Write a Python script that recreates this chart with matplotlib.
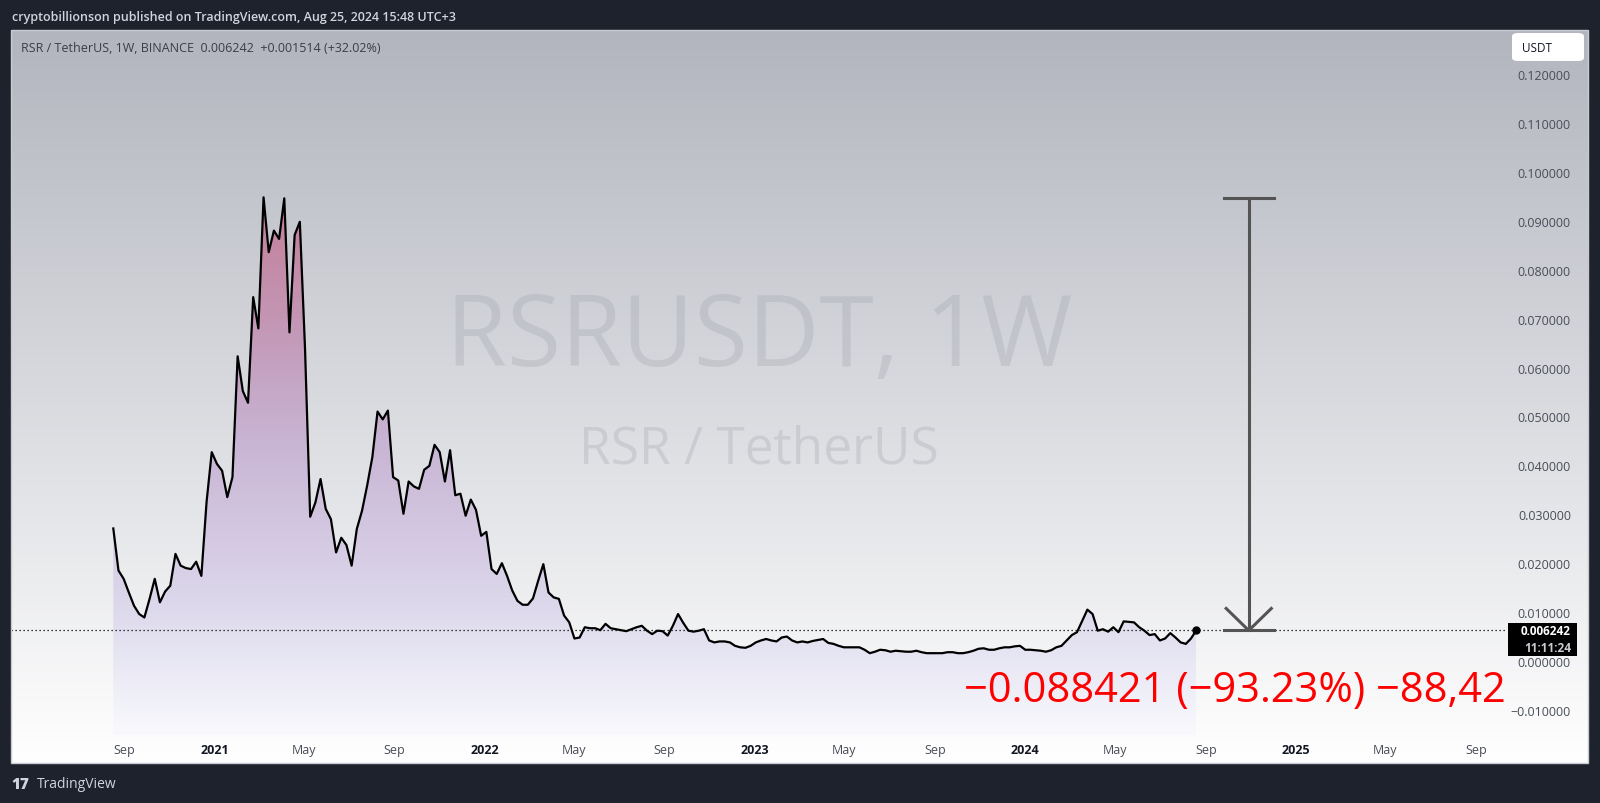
import numpy as np
import pandas as pd
import matplotlib
matplotlib.use('Agg')
import matplotlib.pyplot as plt
import matplotlib.dates as mdates
import matplotlib.transforms as mtransforms
from matplotlib.patches import Rectangle, FancyBboxPatch

plt.rcParams['font.family'] = ['Open Sans', 'DejaVu Sans']

# weekly closes RSR/USDT (Binance), first candle = week of 2020-08-17
start_week = '2020-08-17'
closes = [
    0.0271, 0.0185, 0.0168, 0.0140, 0.0113, 0.0096, 0.0089, 0.0127, 0.0168, 0.0120,
    0.0142, 0.0154, 0.0219, 0.0195, 0.0190, 0.0188, 0.0203, 0.0174, 0.0325, 0.0427,
    0.0403, 0.0389, 0.0335, 0.0376, 0.0623, 0.0552, 0.0528, 0.0744, 0.0680, 0.0948,
    0.0836, 0.0880, 0.0863, 0.0946, 0.0672, 0.0871, 0.0898, 0.0640, 0.0295, 0.0324,
    0.0372, 0.0311, 0.0290, 0.0222, 0.0252, 0.0237, 0.0195, 0.0270, 0.0307, 0.0359,
    0.0417, 0.0510, 0.0494, 0.0512, 0.0376, 0.0369, 0.0301, 0.0367, 0.0357, 0.0352,
    0.0391, 0.0399, 0.0442, 0.0427, 0.0367, 0.0431, 0.0339, 0.0342, 0.0297, 0.0330,
    0.0309, 0.0256, 0.0264, 0.0188, 0.0178, 0.0200, 0.0174, 0.0144, 0.0123, 0.0115,
    0.0115, 0.0128, 0.0164, 0.0198, 0.0140, 0.0130, 0.0127, 0.0093, 0.0079, 0.0046,
    0.0048, 0.0069, 0.0067, 0.0067, 0.0063, 0.0076, 0.0067, 0.0065, 0.0063, 0.0061,
    0.0065, 0.0069, 0.0072, 0.0062, 0.0055, 0.0062, 0.0061, 0.0052, 0.0072, 0.0096,
    0.0078, 0.0062, 0.0060, 0.0062, 0.0065, 0.0042, 0.0038, 0.0040, 0.0040, 0.0038,
    0.0031, 0.0028, 0.0027, 0.0031, 0.0038, 0.0042, 0.0045, 0.0042, 0.0040, 0.0048,
    0.0050, 0.0042, 0.0038, 0.0040, 0.0038, 0.0041, 0.0043, 0.0045, 0.0037, 0.0035,
    0.0031, 0.0028, 0.0028, 0.0028, 0.0028, 0.0023, 0.0016, 0.0019, 0.0023, 0.0022,
    0.0019, 0.0021, 0.0020, 0.0019, 0.0019, 0.0021, 0.0018, 0.0016, 0.0016, 0.0016,
    0.0016, 0.0018, 0.0018, 0.0016, 0.0016, 0.0018, 0.0021, 0.0025, 0.0026, 0.0023,
    0.0023, 0.0026, 0.0028, 0.0028, 0.0030, 0.0031, 0.0023, 0.0023, 0.0022, 0.0021,
    0.0019, 0.0022, 0.0028, 0.0031, 0.0042, 0.0053, 0.0059, 0.0082, 0.0105, 0.0096,
    0.0062, 0.0065, 0.0060, 0.0069, 0.0059, 0.0081, 0.0080, 0.0079, 0.0069, 0.0062,
    0.0053, 0.0055, 0.0042, 0.0046, 0.0057, 0.0048, 0.0038, 0.0035, 0.0046, 0.006242,
]
last_price = 0.006242
change_abs = 0.001514
change_pct = 32.02
countdown = '11:11:24'

# price range tool
measure_top = 0.094663
measure_date = '2024-10-29'
measure_text = '\u22120.088421 (\u221293.23%) \u221288,42'

price_ticks = [-0.01, 0.0, 0.01, 0.02, 0.03, 0.04, 0.05, 0.06, 0.07, 0.08, 0.09, 0.10, 0.11, 0.12]
time_ticks = ['2020-09-01', '2021-01-01', '2021-05-01', '2021-09-01', '2022-01-01', '2022-05-01',
              '2022-09-01', '2023-01-01', '2023-05-01', '2023-09-01', '2024-01-01', '2024-05-01',
              '2024-09-01', '2025-01-01', '2025-05-01', '2025-09-01']
time_labels = ['Sep', '2021', 'May', 'Sep', '2022', 'May', 'Sep', '2023', 'May', 'Sep',
               '2024', 'May', 'Sep', '2025', 'May', 'Sep']

W, H = 1600, 804


def fx(px):
    return px / W


def fy(py):
    return 1 - py / H


fig = plt.figure(figsize=(16, 8.04), dpi=100, facecolor='#1e222d')

# panel background gradient
panel_top, panel_bot, panel_l, panel_r = 30.5, 764, 11, 1588
bg = fig.add_axes([fx(panel_l), fy(panel_bot), (panel_r - panel_l) / W, (panel_bot - panel_top) / H])
t = np.linspace(0, 1, 300)[:, None]
top_c = np.array([178, 181, 190]) / 255
bot_c = np.array([255, 255, 255]) / 255
grad = top_c[None, None, :] * (1 - t[..., None]) + bot_c[None, None, :] * t[..., None]
bg.imshow(grad, aspect='auto', extent=[0, 1, 0, 1])
bg.set_axis_off()
fig.patches.append(Rectangle((fx(panel_l), fy(panel_bot)), (panel_r - panel_l) / W,
                             (panel_bot - panel_top) / H, transform=fig.transFigure,
                             fill=False, edgecolor='#c9cbd2', lw=1))

# main chart axes
plot_r, plot_b = 1507, 736
ax = fig.add_axes([fx(panel_l), fy(plot_b), (plot_r - panel_l) / W, (plot_b - panel_top) / H])
ax.patch.set_alpha(0)
for s in ax.spines.values():
    s.set_visible(False)

dates = pd.date_range(start_week, periods=len(closes), freq='7D')
x = mdates.date2num(dates)
y = np.array(closes)
base = mdates.date2num(pd.Timestamp(start_week))
xlo, xhi = base - 138.2, base + 1882.9
ylo, yhi = -0.01513, 0.12912

# gradient area fill under the line
poly = ax.fill_between(x, y, ylo, color='none', lw=0)
stop_v = [ylo, 0.000, 0.012, 0.045, 0.070, 0.095]
stop_c = np.array([[249, 249, 253], [232, 231, 244], [220, 215, 235], [200, 180, 212],
                   [195, 150, 180], [196, 126, 152]]) / 255
gv = np.linspace(ylo, y.max(), 400)
fill_img = np.stack([np.interp(gv, stop_v, stop_c[:, k]) for k in range(3)], axis=-1)[:, None, :]
im = ax.imshow(fill_img, extent=[x[0], x[-1], ylo, y.max()], origin='lower', aspect='auto', zorder=2)
im.set_clip_path(poly.get_paths()[0], transform=ax.transData)

ax.plot(x, y, color='black', lw=1.6, zorder=5)
ax.plot(x[-1], y[-1], 'o', color='black', ms=5, zorder=6)
ax.axhline(last_price, color='black', lw=0.9, ls=(0, (1, 2.2)), zorder=4)

# watermark
ax.text(0.5, 0.561, 'RSRUSDT, 1W', transform=ax.transAxes, ha='center', va='center',
        fontsize=71, color='#9b9ea8', alpha=0.28, zorder=1)
ax.text(0.5, 0.406, 'RSR / TetherUS', transform=ax.transAxes, ha='center', va='center',
        fontsize=37, color='#9b9ea8', alpha=0.28, zorder=1)

# price range tool
mx = mdates.date2num(pd.Timestamp(measure_date))
tool_c = '#545454'
ax.plot([mx, mx], [last_price, measure_top], color=tool_c, lw=2.2, zorder=7)
ax.plot([mx - 34, mx + 34], [measure_top, measure_top], color=tool_c, lw=2.2, zorder=7)
ax.plot([mx - 34, mx + 34], [last_price, last_price], color=tool_c, lw=2.2, zorder=7)
ax.plot([mx - 30.5, mx, mx + 30.5], [last_price + 0.0045, last_price, last_price + 0.0045],
        color=tool_c, lw=2.2, zorder=7)
ax.text(base + 1149, -0.0059, measure_text, color='#ff0000', fontsize=30,
        ha='left', va='center', clip_on=True, zorder=8)

ax.set_xlim(xlo, xhi)
ax.set_ylim(ylo, yhi)

# price scale
ax.yaxis.tick_right()
ax.set_yticks(price_ticks)
ax.set_yticklabels([f'{v:.6f}'.replace('-', '\u2212') for v in price_ticks])
ax.tick_params(axis='y', length=0, pad=46, labelsize=9, labelcolor='#4a4d57')
for lab in ax.get_yticklabels():
    lab.set_ha('right')

# time scale
ax.set_xticks(mdates.date2num(pd.to_datetime(time_ticks)))
ax.set_xticklabels(time_labels)
ax.tick_params(axis='x', length=0, pad=6, labelsize=9, labelcolor='#4a4d57')
for lab in ax.get_xticklabels():
    if lab.get_text().isdigit():
        lab.set_fontweight('bold')
        lab.set_color('#131722')

# last price tag
blend = mtransforms.blended_transform_factory(ax.transAxes, ax.transData)
px_val = 1 / 4890
ax.add_patch(Rectangle((1.0007, last_price - 25.3 * px_val), 69 / 1496, 33 * px_val,
                       transform=blend, facecolor='black', edgecolor='none', clip_on=False, zorder=9))
ax.text(1.0428, last_price, f'{last_price:.6f}', transform=blend, ha='right', va='center',
        color='white', fontsize=8.5, fontweight='bold', zorder=10)
ax.text(1.0428, last_price - 17.3 * px_val, countdown, transform=blend, ha='right', va='center',
        color='#c9cbd1', fontsize=8.5, fontweight='bold', zorder=10)

# currency button
fig.patches.append(FancyBboxPatch((fx(1512), fy(62)), 72 / W, 28 / H, transform=fig.transFigure,
                                  boxstyle='round,pad=0,rounding_size=0.004',
                                  facecolor='white', edgecolor='none'))
fig.text(fx(1522), fy(48), 'USDT', color='#131722', fontsize=8.5, va='center')

# header / legend texts
fig.text(fx(12), fy(17), 'cryptobillionson published on TradingView.com, Aug 25, 2024 15:48 UTC+3',
         color='#d1d4dc', fontsize=9, fontweight='semibold', va='center')
fig.text(fx(21), fy(48),
         f'RSR / TetherUS, 1W, BINANCE  {last_price:.6f}  +{change_abs:.6f} (+{change_pct:.2f}%)',
         color='#3b3e47', fontsize=9, va='center')

# footer logo
fig.text(fx(11), fy(785), '17', color='#d1d4dc', fontsize=11, fontweight='heavy', va='center')
fig.text(fx(37), fy(785), 'TradingView', color='#d1d4dc', fontsize=10, va='center')

fig.savefig('out.png', dpi=100, facecolor=fig.get_facecolor())
